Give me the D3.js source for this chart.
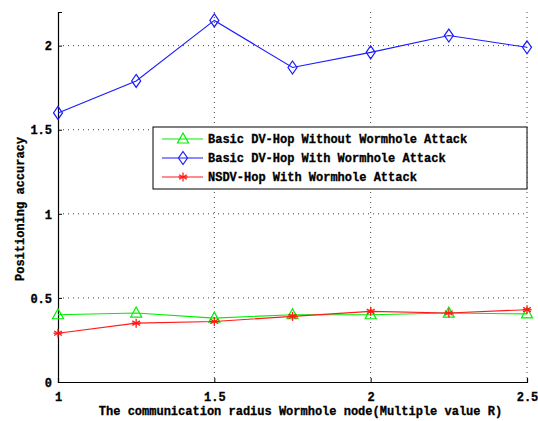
<!DOCTYPE html>
<html>
<head>
<meta charset="utf-8">
<script src="https://cdn.jsdelivr.net/npm/d3@7"></script>
<style>
  body { margin: 0; background: #fff; }
  svg text { font-family: "Liberation Mono", "DejaVu Sans Mono", monospace; font-weight: bold; font-size: 12px; fill: #000; stroke: #000; stroke-width: 0.3px; }
</style>
</head>
<body>
<svg id="chart" width="538" height="421"></svg>
<script>
// Radius multiples of the wormhole node (x axis)
const radius = [1, 1.25, 1.5, 1.75, 2, 2.25, 2.5];

// Positioning accuracy per method
const basicNoAttack = [0.40, 0.41, 0.38, 0.40, 0.40, 0.41, 0.405];
const basicAttack   = [1.60, 1.79, 2.15, 1.87, 1.96, 2.06, 1.99];
const nsdvAttack    = [0.29, 0.35, 0.36, 0.39, 0.42, 0.41, 0.43];

const seriesNames = [
  "Basic DV-Hop Without Wormhole Attack",
  "Basic DV-Hop With Wormhole Attack",
  "NSDV-Hop With Wormhole Attack"
];
const seriesColors = ["#00ee00", "#1a1aff", "#ff1a1a"];
const seriesMarkers = ["triangle", "diamond", "asterisk"];

const xTicks = [1, 1.5, 2, 2.5];
const yTicks = [0, 0.5, 1, 1.5, 2];

const margin = { top: 12, right: 11, bottom: 39, left: 58 };
const W = 538, H = 421;
const iw = W - margin.left - margin.right;
const ih = H - margin.top - margin.bottom;

const svg = d3.select("#chart");
const g = svg.append("g").attr("transform", `translate(${margin.left},${margin.top})`);

const x = d3.scaleLinear().domain([1, 2.5]).range([0, iw]);
const y = d3.scaleLinear().domain([0, 2.2]).range([ih, 0]);

// dotted grid
g.append("g").selectAll("line").data(xTicks.slice(1)).join("line")
  .attr("x1", d => x(d)).attr("x2", d => x(d)).attr("y1", 0).attr("y2", ih)
  .attr("stroke", "#444").attr("stroke-width", 1).attr("stroke-dasharray", "1,4");
g.append("g").selectAll("line").data(yTicks.slice(1)).join("line")
  .attr("x1", 0).attr("x2", iw).attr("y1", d => y(d)).attr("y2", d => y(d))
  .attr("stroke", "#444").attr("stroke-width", 1).attr("stroke-dasharray", "1,4");

// axes with inward ticks
const xAxis = g.append("g").attr("transform", `translate(0,${ih})`)
  .call(d3.axisBottom(x).tickValues(xTicks).tickSize(-4).tickPadding(10).tickFormat(d => d3.format("")(d)));
const yAxis = g.append("g")
  .call(d3.axisLeft(y).tickValues(yTicks).tickSize(-4).tickPadding(6).tickFormat(d => d3.format("")(d)));
[xAxis, yAxis].forEach(a => {
  a.select(".domain").attr("stroke", "#000").attr("stroke-width", 1.2);
  a.selectAll(".tick line").attr("stroke", "#000");
  a.selectAll("text").attr("font-size", 12).attr("fill", "#000");
});
yAxis.selectAll("text").attr("dy", "0.35em");

// axis titles
svg.append("text").attr("x", margin.left + iw / 2 + 8).attr("y", 415)
  .attr("text-anchor", "middle").text("The communication radius Wormhole node(Multiple value R)");
svg.append("text").attr("transform", `translate(24,${margin.top + ih / 2 + 12}) rotate(-90)`)
  .attr("text-anchor", "middle").text("Positioning accuracy");

// marker drawing
function drawMarker(sel, type, color) {
  if (type === "triangle") {
    sel.append("path").attr("d", "M0,-6 L5.5,4 L-5.5,4 Z")
      .attr("fill", "none").attr("stroke", color).attr("stroke-width", 1.2);
  } else if (type === "diamond") {
    sel.append("path").attr("d", "M0,-6.5 L4.5,0 L0,6.5 L-4.5,0 Z")
      .attr("fill", "none").attr("stroke", color).attr("stroke-width", 1.2);
  } else {
    const r = 4.5;
    [0, 60, 120].forEach(a => {
      sel.append("line").attr("x1", 0).attr("y1", -r).attr("x2", 0).attr("y2", r)
        .attr("transform", `rotate(${a})`).attr("stroke", color).attr("stroke-width", 1.3);
    });
    sel.append("line").attr("x1", -r).attr("x2", r).attr("y1", 0).attr("y2", 0)
      .attr("stroke", color).attr("stroke-width", 1.3);
  }
}

const allSeries = [basicNoAttack, basicAttack, nsdvAttack];
const line = d3.line().x((d, i) => x(radius[i])).y(d => y(d));

allSeries.forEach((vals, k) => {
  g.append("path").datum(vals).attr("d", line)
    .attr("fill", "none").attr("stroke", seriesColors[k]).attr("stroke-width", 1.1);
  vals.forEach((v, i) => {
    const m = g.append("g").attr("transform", `translate(${x(radius[i])},${y(v)})`);
    drawMarker(m, seriesMarkers[k], seriesColors[k]);
  });
});

// legend
const lg = svg.append("g").attr("transform", "translate(153,127)");
lg.append("rect").attr("width", 374).attr("height", 62)
  .attr("fill", "#fff").attr("stroke", "#000").attr("stroke-width", 1);
seriesNames.forEach((name, k) => {
  const yy = 12 + k * 19;
  lg.append("line").attr("x1", 9).attr("x2", 50).attr("y1", yy).attr("y2", yy)
    .attr("stroke", seriesColors[k]).attr("stroke-width", 1.1);
  const m = lg.append("g").attr("transform", `translate(30,${yy})`);
  drawMarker(m, seriesMarkers[k], seriesColors[k]);
  lg.append("text").attr("x", 55).attr("y", yy).attr("dy", "0.35em").text(name);
});
</script>
</body>
</html>
